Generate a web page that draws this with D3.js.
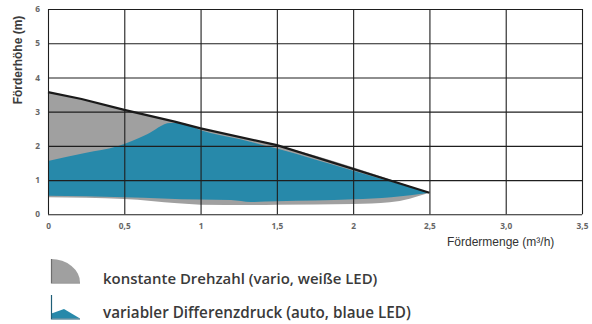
<!DOCTYPE html>
<html><head><meta charset="utf-8">
<script src="https://cdn.jsdelivr.net/npm/d3@7"></script>
<style>html,body{margin:0;padding:0;background:#fff;}svg{display:block;}</style>
</head><body>
<svg id="c" width="592" height="324"></svg>
<script>
// ---- data ----
const xTicks = [0, 0.5, 1, 1.5, 2, 2.5, 3, 3.5];
const xTickLabels = ["0", "0,5", "1", "1,5", "2", "2,5", "3,0", "3,5"];
const yTicks = [0, 1, 2, 3, 4, 5, 6];
const yTickLabels = ["0", "1", "2", "3", "4", "5", "6"];
const xTitle = "Fördermenge (m³/h)";
const yTitle = "Förderhöhe (m)";

// constant speed (grey) – upper curve & lower curve
const greyTopQ = [0, 0.22, 0.5, 0.83, 1.0, 1.5, 2.5];
const greyTopH = [3.57, 3.37, 3.05, 2.71, 2.51, 2.02, 0.63];
const greyBotQ = [0, 0.5, 0.85, 1.0, 1.33, 1.5, 2.0, 2.24, 2.5];
const greyBotH = [0.5, 0.45, 0.32, 0.28, 0.27, 0.28, 0.3, 0.35, 0.63];

// variable differential pressure (blue)
const blueTopQ = [0, 0.25, 0.45, 0.65, 0.8, 0.88, 1.0, 1.26, 1.5, 2.0, 2.5];
const blueTopH = [1.56, 1.8, 1.98, 2.34, 2.67, 2.66, 2.46, 2.19, 1.92, 1.27, 0.63];
const blueBotQ = [0, 0.5, 1.0, 1.2, 1.33, 1.5, 2.0, 2.25, 2.5];
const blueBotH = [0.54, 0.5, 0.43, 0.42, 0.36, 0.38, 0.44, 0.5, 0.63];

const legendLabels = ["konstante Drehzahl (vario, weiße LED)", "variabler Differenzdruck (auto, blaue LED)"];

// ---- layout ----
const svg = d3.select("#c");
const L = 48, R = 582, T = 9, B = 214.3;
const x = d3.scaleLinear().domain([0, 3.5]).range([L, R]);
const y = d3.scaleLinear().domain([0, 6]).range([B, T]);
const GREY = "#a0a0a0", BLUE = "#2789aa";

function bandSmooth(q1, h1, q2, h2) {
  const ln = d3.line().x(d => x(d[0])).y(d => y(d[1])).curve(d3.curveMonotoneX);
  const top = ln(q1.map((q, i) => [q, h1[i]]));
  const bot = ln(q2.map((q, i) => [q, h2[i]]).reverse());
  return top + "L" + bot.slice(1) + "Z";
}

// areas
svg.append("path").attr("d", bandSmooth(greyTopQ, greyTopH, greyBotQ, greyBotH)).attr("fill", GREY);
svg.append("path").attr("d", bandSmooth(blueTopQ, blueTopH, blueBotQ, blueBotH)).attr("fill", BLUE);

// grid via axes
const gx = svg.append("g").attr("transform", `translate(0,${B})`)
  .call(d3.axisBottom(x).tickValues(xTicks).tickSize(-(B - T)).tickFormat((d, i) => xTickLabels[i]).tickPadding(9));
const gy = svg.append("g").attr("transform", `translate(${L},0)`)
  .call(d3.axisLeft(y).tickValues(yTicks).tickSize(-(R - L)).tickFormat((d, i) => yTickLabels[i]).tickPadding(8));
[gx, gy].forEach(g => {
  g.select(".domain").remove();
  g.selectAll("line").attr("stroke", "#1e1e1e").attr("stroke-width", 1.1);
  g.selectAll("text").attr("font-family", "Open Sans, sans-serif").attr("font-weight", 700)
    .attr("font-size", 8.3).attr("fill", "#666");
});

// max head line
svg.append("path")
  .attr("d", d3.line().x(d => x(d[0])).y(d => y(d[1]))(greyTopQ.map((q, i) => [q, greyTopH[i]])))
  .attr("fill", "none").attr("stroke", "#1a1a1a").attr("stroke-width", 2.2);

// titles
svg.append("text").attr("x", 447).attr("y", 246).text(xTitle)
  .attr("font-family", "Liberation Sans, Arial, sans-serif").attr("font-size", 12).attr("fill", "#333");
svg.append("text").attr("transform", "translate(22,60) rotate(-90)").attr("text-anchor", "middle").text(yTitle)
  .attr("font-family", "Liberation Sans, Arial, sans-serif").attr("font-weight", 700).attr("font-size", 12).attr("fill", "#3c3c3c");

// legend
const lg = svg.append("g");
lg.append("path").attr("d", "M51,282.5 L51,259 A29,23.5 0 0 1 80,282.5 Z").attr("fill", GREY);
lg.append("path").attr("d", "M51.5,259 L51.5,283 L80,283").attr("fill", "none").attr("stroke", "#6d6d6d").attr("stroke-width", 1.2);
lg.append("path").attr("d", "M51.5,313.5 L64,309 L80,318.5 L51.5,318.5 Z").attr("fill", BLUE);
lg.append("path").attr("d", "M51.5,295 L51.5,319 L80,319").attr("fill", "none").attr("stroke", "#1f5f78").attr("stroke-width", 1.2);

const lty = [283.5, 317.5];
const widths = [274.5, 308];
legendLabels.forEach((t, i) => {
  const el = lg.append("text").attr("x", 103).attr("y", lty[i]).text(t)
    .attr("font-family", "Open Sans, sans-serif").attr("font-weight", 600).attr("font-size", 14).attr("fill", "#3a3a3a");
  const w = el.node().getComputedTextLength();
  el.attr("font-size", 14 * widths[i] / w);
});
</script>
</body></html>
